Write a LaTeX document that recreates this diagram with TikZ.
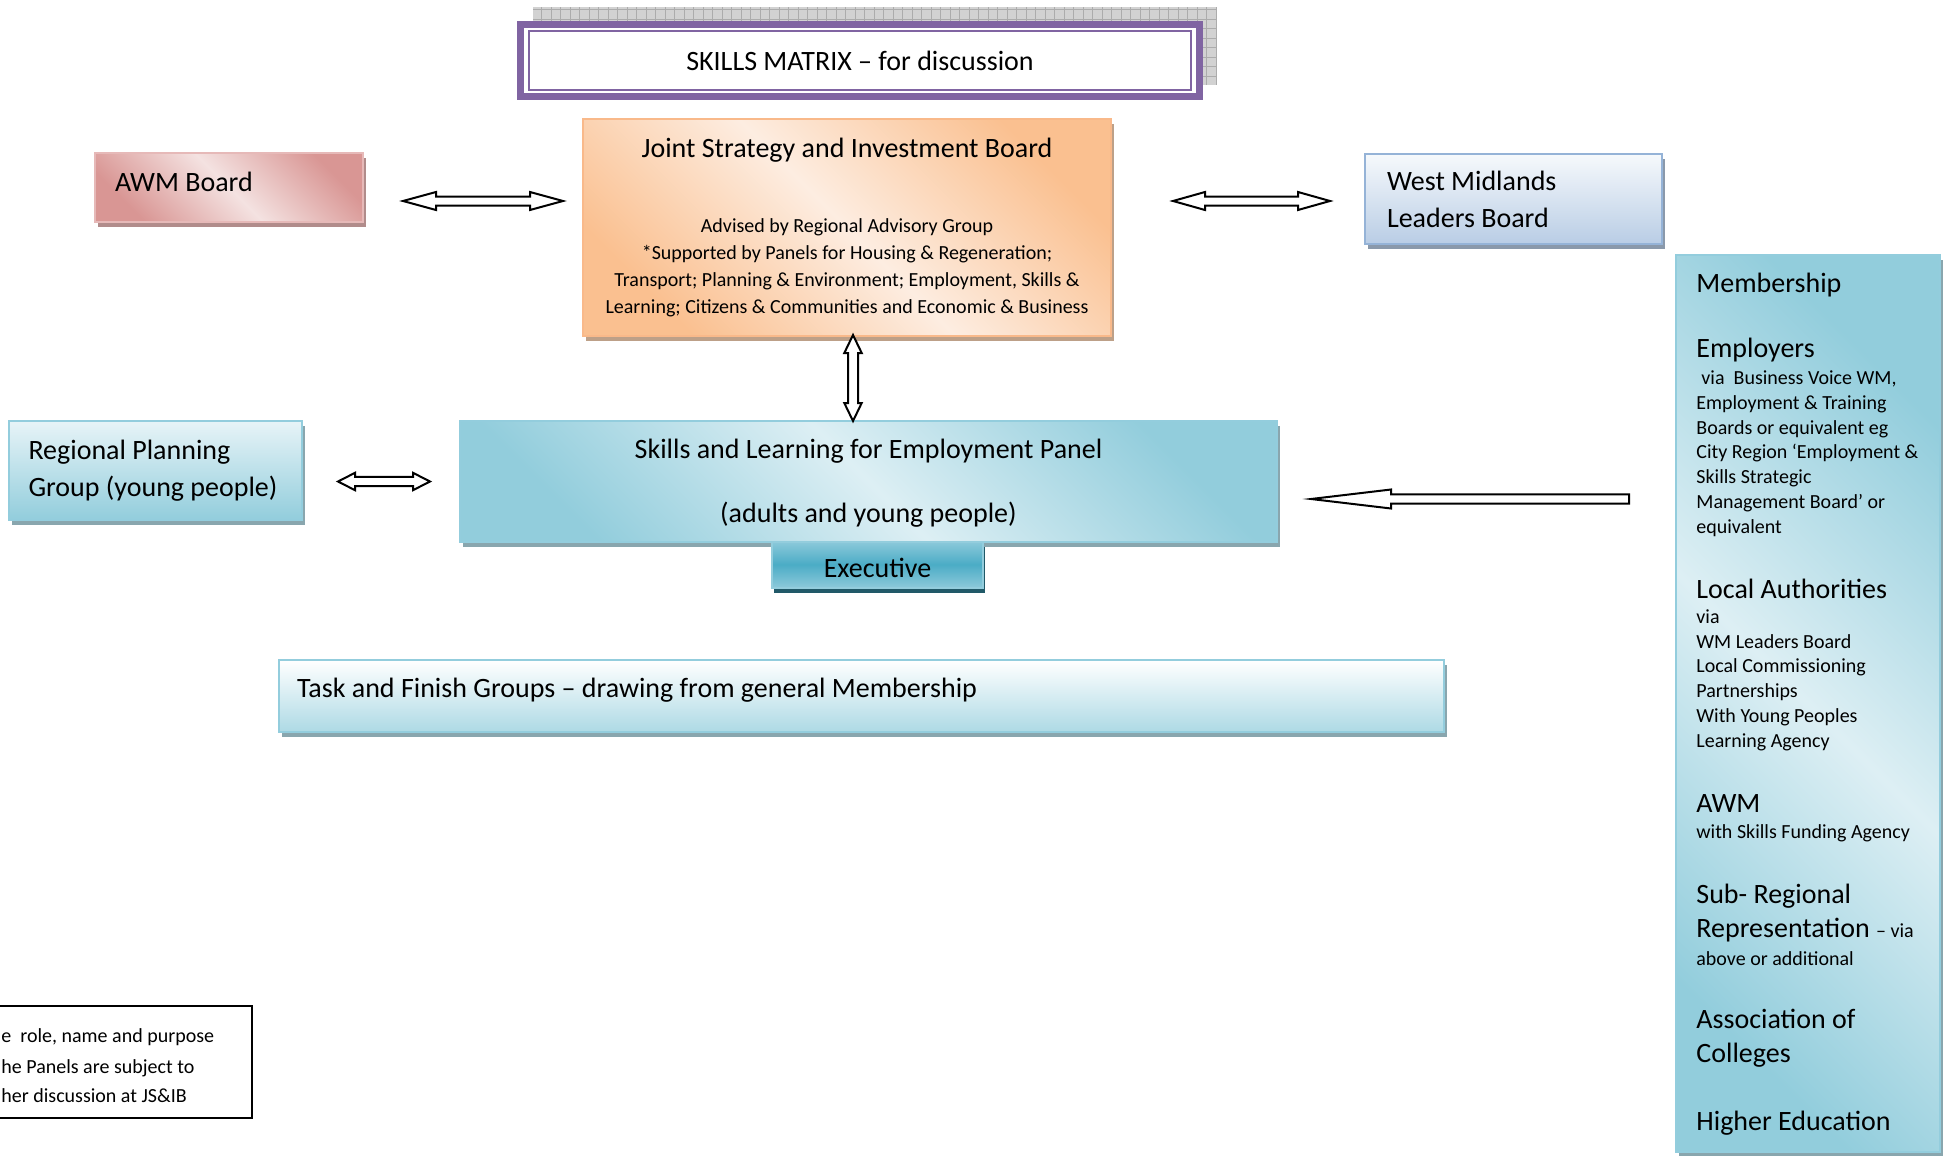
\documentclass[tikz,border=0pt]{standalone}
\usepackage{fontspec}
\setmainfont{Carlito}
\usetikzlibrary{shadows,calc}
\definecolor{purp}{HTML}{8064A2}
\definecolor{awmD}{HTML}{D99694}
\definecolor{awmL}{HTML}{F4E2E1}
\definecolor{awmB}{HTML}{E6B9B8}
\definecolor{orD}{HTML}{FAC090}
\definecolor{orL}{HTML}{FDEDE1}
\definecolor{orB}{HTML}{F9B98A}
\definecolor{blD}{HTML}{B9CDE5}
\definecolor{blL}{HTML}{F6F9FC}
\definecolor{blB}{HTML}{95B3D7}
\definecolor{tqD}{HTML}{92CDDC}
\definecolor{tqL}{HTML}{DDEFF4}
\definecolor{tqB}{HTML}{93CDDD}
\definecolor{exM}{HTML}{4BACC6}
\definecolor{exL}{HTML}{8CC9DA}
\definecolor{exS}{HTML}{215968}
\tikzset{
  box/.style={rectangle, line width=1pt, inner sep=0pt, outer sep=0pt},
  shad/.style={drop shadow={shadow xshift=1.5pt, shadow yshift=-2.5pt, fill=#1, opacity=1}},
  big/.style={font=\fontsize{14}{18.5}\selectfont},
  diag/.style 2 args={left color=#1, right color=#1, middle color=#2, shading angle=135},
  blockarrow/.style={draw=black, fill=white, line width=1pt, line join=miter},
  pics/hdbl/.style args={#1/#2/#3/#4}{code={
    \draw[blockarrow] (0,0) -- (#2,-#3) -- (#2,-#4) -- ({#1-#2},-#4) -- ({#1-#2},-#3) -- (#1,0)
      -- ({#1-#2},#3) -- ({#1-#2},#4) -- (#2,#4) -- (#2,#3) -- cycle;}},
  pics/vdbl/.style args={#1/#2/#3/#4}{code={
    \draw[blockarrow] (0,0) -- (-#3,#2) -- (-#4,#2) -- (-#4,{#1-#2}) -- (-#3,{#1-#2}) -- (0,#1)
      -- (#3,{#1-#2}) -- (#4,{#1-#2}) -- (#4,#2) -- (#3,#2) -- cycle;}},
  pics/larr/.style args={#1/#2/#3/#4}{code={
    \draw[blockarrow] (0,0) -- (#2,-#3) -- (#2,-#4) -- (#1,-#4) -- (#1,#4) -- (#2,#4) -- (#2,#3) -- cycle;}},
}
\begin{document}
\begin{tikzpicture}[x=0.5pt,y=-0.5pt]
\useasboundingbox (0,0) rectangle (1944,1156);

% title with grid shadow
\fill[gray!35] (533,7) rectangle (1217,85);
\draw[gray!65, line width=0.4pt, step=4.75pt] (533,7) grid (1217,85);
\node[box, draw=purp, line width=3.5pt, fill=white, minimum width=339.5pt, minimum height=36pt, big] (title) at (860,60.5) {SKILLS MATRIX – for discussion};
\draw[purp, line width=1pt] ($(title.north west)+(8.5,6.5)$) rectangle ($(title.south east)+(-8.5,-6.5)$);

% boards
\node[box, draw=awmB, shad=awmD!55!gray, diag={awmD}{awmL}, minimum width=134pt, minimum height=34.5pt, big, text width=114pt, align=flush left, text height=10pt, text depth=6pt] (awm) at (229,187.5) {AWM Board};

\node[box, draw=orB, shad=orD!50!gray, diag={orD}{orL}, minimum width=264pt, minimum height=108.5pt, align=center, font=\fontsize{10}{13.5}\selectfont] (jsib) at (847,227.5) {{\fontsize{14}{17}\selectfont Joint Strategy and Investment Board}\\[24pt]Advised by Regional Advisory Group\\*Supported by Panels for Housing \& Regeneration;\\Transport; Planning \& Environment; Employment, Skills \&\\Learning; Citizens \& Communities and Economic \& Business};

\node[box, draw=blB, shad=blB!50!gray, top color=blL, bottom color=blD, minimum width=148.5pt, minimum height=45pt, big, text width=126.5pt, align=flush left] (wmlb) at (1513.5,199) {West Midlands\\Leaders Board};

\node[box, draw=tqB, shad=tqB!50!gray, top color=tqL!70!white, bottom color=tqD, minimum width=146.5pt, minimum height=49.5pt, big, text width=127pt, align=flush left] (rpg) at (155.5,470.5) {Regional Planning\\Group (young people)};

\node[box, draw=tqB, shad=tqB!50!gray, diag={tqD}{tqL}, minimum width=408.5pt, minimum height=60.5pt, big, align=center] (slep) at (868.5,481) {\rule{0pt}{12pt}Skills and Learning for Employment Panel\\[13.5pt](adults and young people)};

\node[box, draw=tqB, drop shadow={shadow xshift=1pt, shadow yshift=-2.5pt, fill=exS, opacity=1}, top color=exL, bottom color=exL, middle color=exM, minimum width=105.5pt, minimum height=23pt, big, text height=13pt, text depth=0.1pt] (exec) at (877.5,564.5) {Executive};

\node[box, draw=tqB, shad=tqB!50!gray, top color=white, bottom color=tqD!75, minimum width=582.5pt, minimum height=36pt, big, text width=564.5pt, align=flush left, text height=10pt, text depth=8.3pt] (task) at (861.5,696) {Task and Finish Groups – drawing from general Membership};

% membership column
\node[box, draw=tqB, shad=tqB!50!gray, diag={tqD}{tqL}, minimum width=132pt, minimum height=448.5pt] (memb) at (1808,703.5) {};
\node[big, anchor=base west, inner sep=0pt] (m0) at (1696,292) {Membership};
\node[anchor=base west, inner sep=0pt, align=flush left, font=\fontsize{10}{12.35}\selectfont] (m1) at (1696,533) {{\fontsize{14}{17}\selectfont Employers}\\[1.15pt]\hspace{2.5pt}via\ \ Business Voice WM,\\Employment \& Training\\Boards or equivalent eg\\City Region ‘Employment \&\\Skills Strategic\\Management Board’ or\\equivalent};
\node[anchor=base west, inner sep=0pt, align=flush left, font=\fontsize{10}{12.35}\selectfont] (m2) at (1696,747) {{\fontsize{14}{17}\selectfont Local Authorities}\\via\\WM Leaders Board\\Local Commissioning\\Partnerships\\With Young Peoples\\Learning Agency};
\node[anchor=base west, inner sep=0pt, align=flush left, font=\fontsize{10}{12.35}\selectfont] (m3) at (1696,838) {{\fontsize{14}{17}\selectfont AWM}\\[0.65pt]with Skills Funding Agency};
\node[anchor=base west, inner sep=0pt, align=flush left, font=\fontsize{14}{17}\selectfont] (m4) at (1696,965) {Sub- Regional\\Representation {\fontsize{10}{12}\selectfont – via}\\[-3pt]{\fontsize{10}{12}\selectfont above or additional}};
\node[anchor=base west, inner sep=0pt, align=flush left, font=\fontsize{14}{17}\selectfont] (m5) at (1696,1062) {Association of\\Colleges};
\node[big, anchor=base west, inner sep=0pt] (m6) at (1696,1130) {Higher Education};

% note box (runs off the left edge)
\node[box, draw=black, minimum width=136pt, minimum height=56pt] (note) at (116,1062) {};
\node[anchor=base west, inner sep=0pt, font=\fontsize{10}{12}\selectfont] (n1) at (1,1042) {e\ \ role, name and purpose};
\node[anchor=base west, inner sep=0pt, font=\fontsize{10}{12}\selectfont] (n2) at (1,1073) {he Panels are subject to};
\node[anchor=base west, inner sep=0pt, font=\fontsize{10}{12}\selectfont] (n3) at (1,1102) {her discussion at JS\&IB};

% block arrows
\coordinate (a1) at (403,201);
\coordinate (a2) at (1173,201);
\coordinate (a3) at (853,335);
\coordinate (a4) at (338,481.5);
\coordinate (a5) at (1311,499);
\pic at (a1) {hdbl=160/33/9/4.5};
\pic at (a2) {hdbl=157/32/9/4.5};
\pic at (a3) {vdbl=86/18/8.7/5};
\pic at (a4) {hdbl=92/17/8.7/4.7};
\pic at (a5) {larr=318/80/9.5/4.7};
\end{tikzpicture}
\end{document}
